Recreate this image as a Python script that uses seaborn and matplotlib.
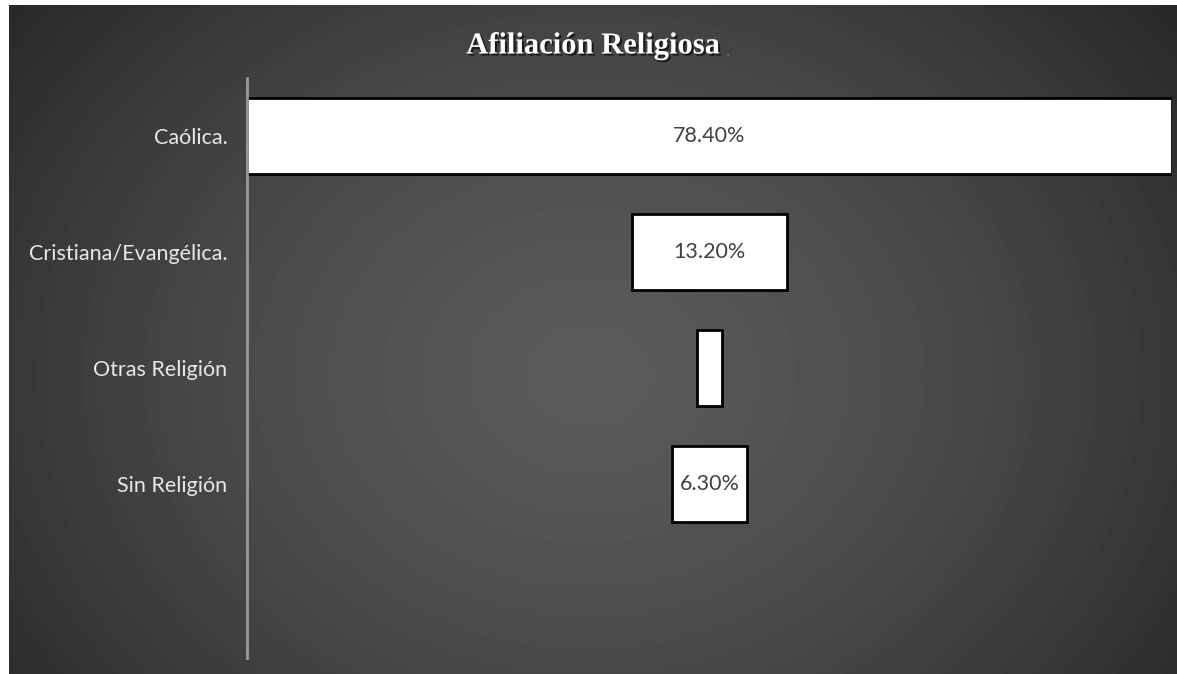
import matplotlib
matplotlib.use("Agg")
import matplotlib.pyplot as plt
import matplotlib.patheffects as pe
import numpy as np
import pandas as pd
import seaborn as sns

# data
religions = ["Caólica.", "Cristiana/Evangélica.", "Otras Religión", "Sin Religión"]
pct = [78.4, 13.2, 2.1, 6.3]
bar_labels = ["78.40%", "13.20%", "", "6.30%"]

sns.set_style("white")
plt.rcParams["font.family"] = ["Lato", "DejaVu Sans"]

W, H = 1177, 674
fig = plt.figure(figsize=(W / 100, H / 100), dpi=100, facecolor="white")

# radial grey gradient background (dark card)
bg = fig.add_axes([9 / W, 0, 1 - 9 / W, 1 - 5 / H], zorder=0)
yy, xx = np.mgrid[0:669, 0:1168]
r = np.sqrt(((xx - 580) / 760) ** 2 + ((yy - 370) / 620) ** 2)
r = np.clip(r, 0, 1) ** 1.5
shade = 0x5a - (0x5a - 0x26) * r
bg.imshow(shade, cmap="gray", vmin=0, vmax=255, aspect="auto", interpolation="bilinear")
bg.axis("off")

ax = fig.add_axes([247 / W, 16 / H, 925 / W, 580 / H], zorder=1)
ax.patch.set_alpha(0)

df = pd.DataFrame({"religion": religions, "pct": pct})
sns.barplot(data=df, x="pct", y="religion", orient="h", color="white",
            saturation=1, edgecolor="black", linewidth=2, width=0.66, ax=ax)

# center the bars (funnel style)
top = max(pct)
for patch, v in zip(ax.patches, pct):
    patch.set_x((top - v) / 2)

for i, lab in enumerate(bar_labels):
    if lab:
        ax.text(top / 2, i, lab, ha="center", va="center", color="#404040", fontsize=15.5)

ax.set_xlim(0, top)
ax.set_ylim(4.5, -0.5)
ax.set_xlabel("")
ax.set_ylabel("")
ax.set_xticks([])
ax.tick_params(axis="y", length=0, pad=14, labelsize=15.5, labelcolor="#e8e8e8")
for s in ["top", "right", "bottom"]:
    ax.spines[s].set_visible(False)
ax.spines["left"].set_color("#9a9a9a")
ax.spines["left"].set_linewidth(2)

title = fig.text(593 / W, 1 - 46 / H, "Afiliación Religiosa", ha="center", va="center",
                 color="white", fontsize=22, fontweight="bold", family="Liberation Serif",
                 path_effects=[pe.withSimplePatchShadow(offset=(1.5, -1.5), shadow_rgbFace="black", alpha=0.6)])
plt.annotate(".", xy=(1, 0), xycoords=title, xytext=(4, 0), textcoords="offset points",
             ha="left", va="bottom", color="#6a6a6a", fontsize=14, family="Liberation Serif")

fig.savefig("out.png", dpi=100, facecolor="white")
